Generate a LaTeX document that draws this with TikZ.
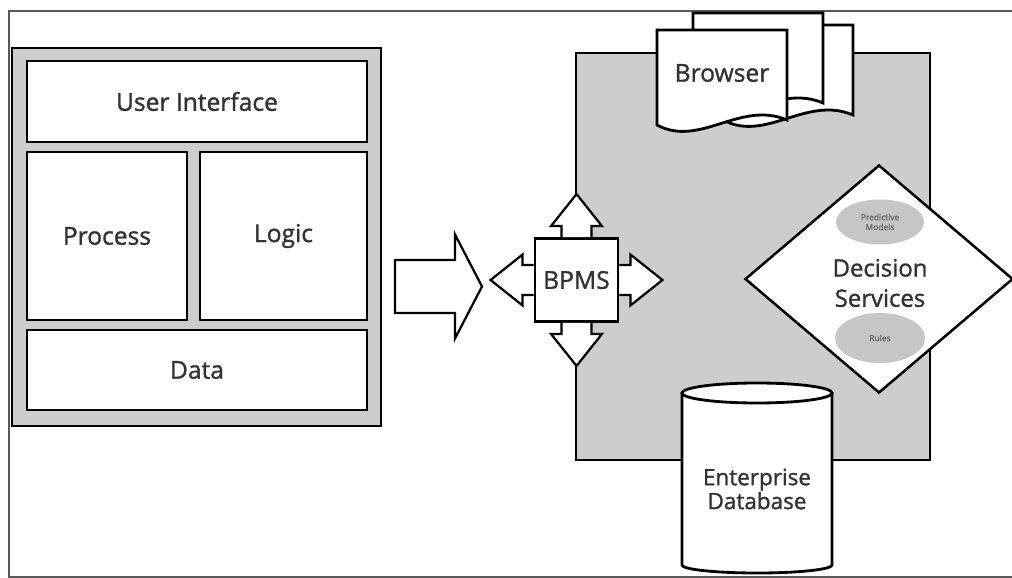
\documentclass[tikz,border=0pt]{standalone}
\usepackage{fontspec}
\setmainfont{Open Sans}[FakeBold=1.2]
\usetikzlibrary{shapes.geometric}
\definecolor{panelgray}{RGB}{205,205,207}
\definecolor{ovalgray}{RGB}{198,198,200}
\definecolor{txtgray}{RGB}{50,50,50}

\begin{document}
\begin{tikzpicture}[x=0.025cm,y=-0.025cm]
      \tikzstyle{every node}=[font=\fontsize{17.5}{20}\selectfont,text=txtgray]
      \tikzstyle{box}=[draw,line width=2pt,fill=white,inner sep=0pt]
      \tikzstyle{blockarrow}=[draw,line width=1.6pt,fill=white,line join=miter]
      \tikzstyle{oval}=[ellipse,fill=ovalgray,inner sep=0pt,align=center,
                        font=\fontsize{6}{7}\selectfont,text=black!60]
      \useasboundingbox (0,0) rectangle (1012,578);

      % frame
      \draw[line width=1.2pt,black!65] (1012,11) -- (9,11) -- (9,577) -- (1012,577);

      % application stack
      \node[box,fill=panelgray,minimum width=9.225cm,minimum height=9.45cm] (app) at (196.5,237) {};
      \node[box,minimum width=8.5cm,minimum height=2.025cm]  (ui)      at (197,101.5) {User Interface};
      \node[box,minimum width=4cm,minimum height=4.2cm]      (process) at (107,236)   {Process};
      \node[box,minimum width=4.175cm,minimum height=4.2cm]  (logic)   at (283.5,236) {Logic};
      \node[box,minimum width=8.5cm,minimum height=2cm]      (data)    at (197,370)   {Data};

      \coordinate (flow) at (395,286.5);
      \draw[blockarrow,shift={(flow)}] (0,-26.5) -- (60,-26.5) -- (60,-52) -- (87,0)
           -- (60,52) -- (60,26.5) -- (0,26.5) -- cycle;

      % bpms area
      \node[box,fill=panelgray,minimum width=8.85cm,minimum height=10.175cm] (area) at (753,256.5) {};

      \foreach \dx/\dy in {66/-5,36/-17,0/0}
        \draw[line width=2pt,fill=white,shift={(\dx,\dy)}] (657,30) -- (787,30) -- (787,120)
             .. controls (740,100) and (700,148) .. (657,125) -- cycle;
      \node (browser) at (722,73) {Browser};

      \node[box,minimum size=2.075cm] (bpms) at (576.5,280) {BPMS};
      \foreach \side/\ang in {north/90,south/270,west/180,east/0}
        \draw[blockarrow,shift={(bpms.\side)},rotate=\ang] (0,-15) -- (11,-15) -- (11,-25.5)
             -- (43,0) -- (11,25.5) -- (11,15) -- (0,15);

      % decision services
      \node[draw,diamond,line width=1.8pt,fill=white,inner sep=0pt,
            minimum width=6.7cm,minimum height=5.7cm] (ds) at (879,279) {};
      \node[oval,minimum width=2.2cm,minimum height=1.125cm] (models) at (880,222) {Predictive\\Models};
      \node[oval,minimum width=2.25cm,minimum height=1.25cm] (rules) at (880,338) {Rules};
      \node[align=center,font=\fontsize{17}{21.5}\selectfont] (dstext) at (880,283) {Decision\\Services};

      % database
      \draw[line width=2pt,fill=white] (682,393) -- (682,565)
           arc[start angle=180,end angle=0,x radius=75,y radius=8] -- (832,393);
      \draw[line width=2pt,fill=white] (757,393) ellipse[x radius=75,y radius=10];
      \node[align=center,font=\fontsize{16}{17}\selectfont] (db) at (757,489) {Enterprise\\Database};
\end{tikzpicture}
\end{document}
